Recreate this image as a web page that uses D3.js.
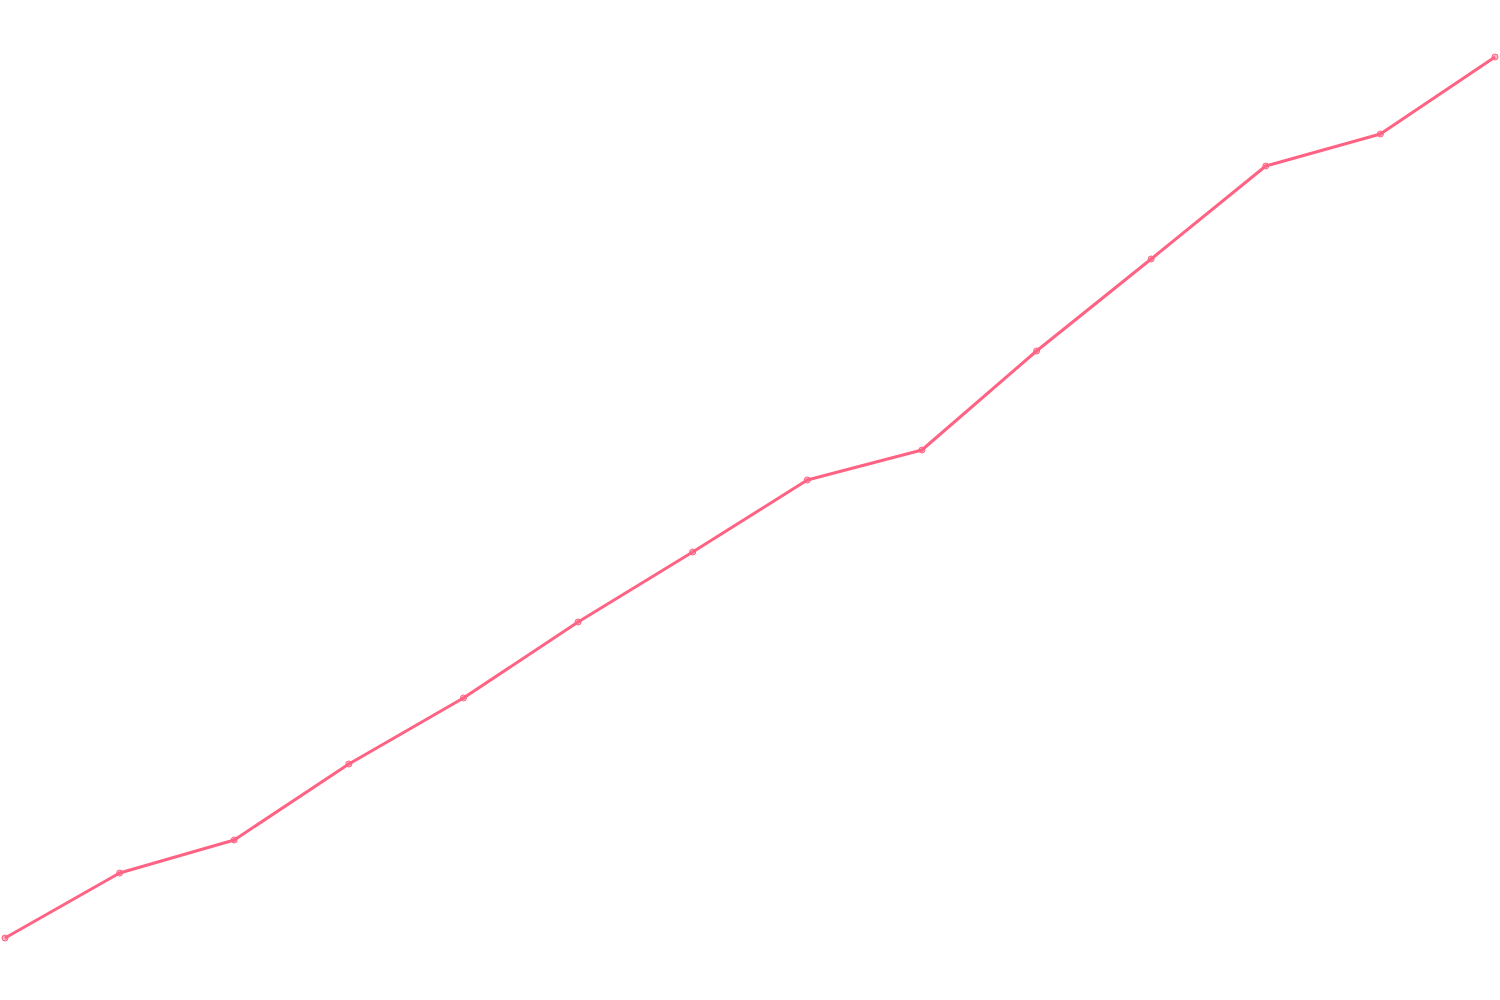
<!DOCTYPE html>
<html>
<head>
<meta charset="utf-8">
<script src="https://cdn.jsdelivr.net/npm/d3@7"></script>
<style>
  html, body { margin: 0; padding: 0; background: #fff; }
  svg { display: block; }
</style>
</head>
<body>
<script>
var w = 1500,
    h = 1000;

// categories (no labels shown in the chart)
var labels = ['1', '2', '3', '4', '5', '6', '7', '8', '9', '10', '11', '12', '13', '14'];
// series values
var values = [6.2, 12.7, 16.0, 23.6, 30.2, 37.8, 44.8, 52.0, 55.0, 64.9, 74.1, 83.4, 86.6, 94.3];

var lineColor = 'rgb(255, 99, 132)';

var svg = d3.select('body')
    .append('svg')
    .attr('width', w)
    .attr('height', h);

var x = d3.scalePoint()
    .domain(labels)
    .range([5, w - 5]);

var y = d3.scaleLinear()
    .domain([0, 100])
    .range([h, 0]);

var line = d3.line()
    .x(function(d, i){ return x(labels[i]); })
    .y(function(d){ return y(d); });

svg.append('path')
    .datum(values)
    .attr('fill', 'none')
    .attr('stroke', lineColor)
    .attr('stroke-width', 3)
    .attr('stroke-linejoin', 'round')
    .attr('d', line);

svg.selectAll('circle')
    .data(values)
    .enter()
    .append('circle')
    .attr('cx', function(d, i){ return x(labels[i]); })
    .attr('cy', function(d){ return y(d); })
    .attr('r', 3)
    .attr('fill', 'rgba(255, 99, 132, 0.5)')
    .attr('stroke', lineColor)
    .attr('stroke-width', 1);
</script>
</body>
</html>
